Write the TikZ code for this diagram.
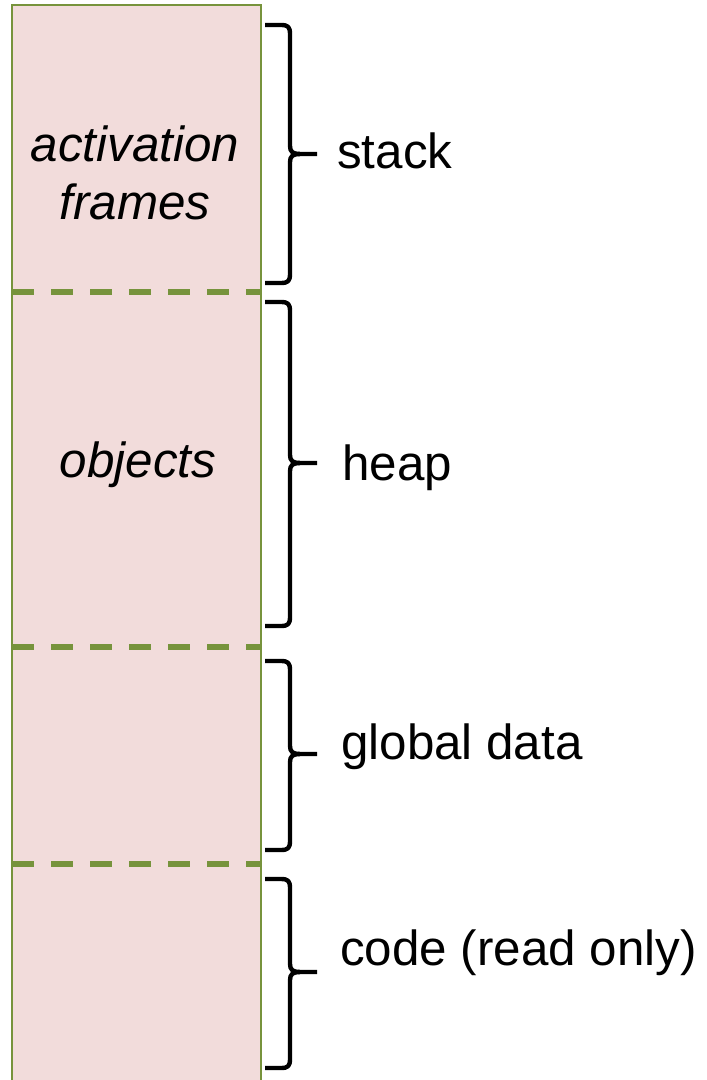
\documentclass[tikz,border=0pt]{standalone}
\usepackage{fontspec}
\setmainfont{Liberation Sans}
\definecolor{regionfill}{HTML}{F2DCDB}
\definecolor{regionedge}{HTML}{77933C}

% right curly brace: top y, tip y, bottom y (pixel units)
\newcommand\segbrace[3]{%
  \draw[bracestroke] (265,#1) -- (281,#1)
    .. controls (288,#1) and (290,{#1+2}) .. (290,{#1+9})
    -- (290,{#2-8})
    .. controls (290,{#2-2}) and (293,#2) .. (300,#2) -- (317,#2);
  \draw[bracestroke] (300,#2)
    .. controls (293,#2) and (290,{#2+2}) .. (290,{#2+8})
    -- (290,{#3-9})
    .. controls (290,{#3-2}) and (288,#3) .. (281,#3) -- (265,#3);
}

\begin{document}
\begin{tikzpicture}[x=0.75pt,y=-0.75pt,
  bracestroke/.style={line width=3.3pt, line join=round},
  divider/.style={regionedge, line width=3.8pt, dash pattern=on 16.5pt off 12.75pt},
  seglabel/.style={font=\fontsize{37}{44}\selectfont, anchor=base west, inner sep=0pt},
  content/.style={font=\fontsize{37}{43.5}\selectfont\itshape, align=center, inner sep=0pt}]
\useasboundingbox (0,0) rectangle (706,1080);

% memory column
\fill[regionfill] (12,5) rectangle (261,1090);
\draw[regionedge, line width=1.5pt] (12,1090) -- (12,5) -- (261,5) -- (261,1090);

% boundaries between segments
\draw[divider] (12,292) -- (261,292);
\draw[divider] (12,647) -- (261,647);
\draw[divider] (12,864) -- (261,864);

% contents of the segments
\node[content, anchor=base] (frames) at (135,220) {activation\\frames};
\node[content, anchor=base] (objects) at (138,477) {objects};

% braces
\segbrace{25}{154}{283}
\segbrace{302}{463}{626}
\segbrace{661}{754}{850}
\segbrace{879}{972}{1068}

% segment names
\node[seglabel] (stack) at (337,169) {stack};
\node[seglabel] (heap) at (342,480) {heap};
\node[seglabel] (global) at (341,759) {global data};
\node[seglabel] (code) at (340,965) {code (read only)};
\end{tikzpicture}
\end{document}
